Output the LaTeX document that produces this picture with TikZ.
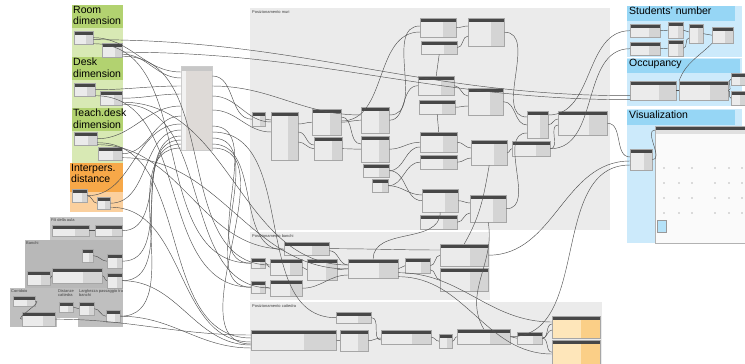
\documentclass[tikz,border=0pt]{standalone}
\usepackage{fontspec}
\setmainfont{Liberation Sans}
\usepackage{tikz}
\usetikzlibrary{calc}

\definecolor{grnH}{RGB}{178,210,112}
\definecolor{grnB}{RGB}{216,233,180}
\definecolor{orgH}{RGB}{247,168,72}
\definecolor{orgB}{RGB}{251,208,158}
\definecolor{bluH}{RGB}{150,214,245}
\definecolor{bluB}{RGB}{204,234,251}
\definecolor{ylwB}{RGB}{254,230,186}
\definecolor{ylwD}{RGB}{251,207,135}
\definecolor{hubC}{RGB}{222,218,215}

\tikzset{
  dyn/.style={draw=black!35, fill=black!8, inner sep=0pt, anchor=north west,
    path picture={
      \fill[black!17] ($(path picture bounding box.north west)!0.62!(path picture bounding box.north east)$) rectangle (path picture bounding box.south east);
      \fill[black!72] (path picture bounding box.north west) rectangle ([yshift=-3.5pt]path picture bounding box.north east);}},
  dynY/.style={dyn, fill=ylwB,
    path picture={
      \fill[ylwD] ($(path picture bounding box.north west)!0.6!(path picture bounding box.north east)$) rectangle (path picture bounding box.south east);
      \fill[black!72] (path picture bounding box.north west) rectangle ([yshift=-3.5pt]path picture bounding box.north east);}},
  hubbox/.style={draw=black!20, fill=hubC, inner sep=0pt, anchor=north west,
    path picture={
      \fill[black!5] (path picture bounding box.north west) rectangle ([xshift=5pt]path picture bounding box.south west);
      \fill[black!22] (path picture bounding box.north west) rectangle ([yshift=-5pt]path picture bounding box.north east);}},
  visbox/.style={draw=black!30, fill=black!2, inner sep=0pt, anchor=north west,
    path picture={
      \fill[black!12] (path picture bounding box.north west) rectangle ([yshift=-8pt]path picture bounding box.north east);
      \fill[black!72] (path picture bounding box.north west) rectangle ([yshift=-4pt]path picture bounding box.north east);}},
  wire/.style={draw=black!68, line width=0.45pt},
  grptitle/.style={anchor=north west, align=left, inner sep=1pt, font=\fontsize{10.5}{11.5}\selectfont},
  grplabel/.style={anchor=north west, inner sep=1pt, font=\fontsize{4}{4.5}\selectfont, text=black!75}
}

% one Dynamo node: name, x, y, width, height
\newcommand\dnode[6][dyn]{\node[#1, minimum width=#5pt, minimum height=#6pt] (#2) at (#3,#4) {};}
\newcommand\dwire[2]{\draw[wire] (#1) to[out=0,in=180] (#2);}

\begin{document}
\begin{tikzpicture}[x=1pt, y=-1pt]
\useasboundingbox (0,0) rectangle (745,364);

% groups
\fill[grnB] (72,5) rectangle (123,163);
\fill[grnH] (72,5) rectangle (123,28);
\fill[grnH] (72,57) rectangle (123,80);
\fill[grnH] (72,108) rectangle (123,131);
\fill[orgB] (70,163) rectangle (123,212);
\fill[orgH] (70,163) rectangle (123,192);
\node[grptitle] (gRoom) at (72,5) {Room\\dimension};
\node[grptitle] (gDesk) at (72,57) {Desk\\dimension};
\node[grptitle] (gTeach) at (72,108) {Teach.desk\\dimension};
\node[grptitle] (gDist) at (70,163) {Interpers.\\distance};

\fill[black!22] (50,217) rectangle (123,240);
\fill[black!28] (25,240) rectangle (123,290);
\fill[black!25] (10,288) rectangle (57,327);
\fill[black!25] (57,288) rectangle (78,318);
\fill[black!25] (78,288) rectangle (123,327);
\node[grplabel] (gFili) at (50,217) {Fili della aula};
\node[grplabel] (gBanchi) at (25,240) {Banchi};
\node[grplabel] (gCorr) at (10,288) {Corridoio};
\node[grplabel, align=left] (gDistC) at (57,288) {Distanze\\cattedra};
\node[grplabel, align=left] (gLargh) at (78,288) {Larghezza passaggio tra\\banchi};

\fill[black!8] (250,8) rectangle (610,230);
\fill[black!8] (250,232) rectangle (490,300);
\fill[black!8] (250,302) rectangle (602,364);
\node[grplabel] (gMuri) at (251,9) {Posizionamento muri};
\node[grplabel] (gPBanchi) at (251,233) {Posizionamento banchi};
\node[grplabel] (gPCatt) at (251,303) {Posizionamento cattedra};

\fill[bluB] (627,6) rectangle (742,57);
\fill[bluH] (627,6) rectangle (735,21);
\fill[bluB] (627,58) rectangle (742,106);
\fill[bluH] (627,59) rectangle (740,73);
\fill[bluB] (627,109) rectangle (742,243);
\fill[bluH] (627,110) rectangle (735,125);
\node[grptitle] (gStud) at (628,6) {Students' number};
\node[grptitle] (gOcc) at (628,58) {Occupancy};
\node[grptitle] (gVis) at (628,110) {Visualization};

% input nodes
\dnode{rA}{74}{31}{19}{13}
\dnode{rB}{102}{43}{20}{14}
\dnode{dA}{74}{83}{21}{13}
\dnode{dB}{100}{91}{22}{14}
\dnode{tA}{74}{132}{23}{13}
\dnode{tB}{98}{147}{24}{13}
\dnode{iA}{72}{189}{15}{13}
\dnode{iB}{97}{197}{13}{12}
\dnode{fA}{52}{225}{37}{11}
\dnode{fB}{95}{225}{27}{11}
\dnode{bA}{82}{249}{11}{13}
\dnode{bB}{52}{268}{50}{15}
\dnode{bC}{27}{271}{23}{14}
\dnode{bD}{107}{254}{15}{14}
\dnode{bE}{107}{273}{15}{15}
\dnode{cA}{13}{296}{22}{10}
\dnode{cB}{22}{312}{33}{14}
\dnode{lA}{59}{302}{14}{10}
\dnode{lB}{79}{302}{15}{13}
\dnode{lC}{106}{310}{14}{12}

\dnode[hubbox]{hub}{181}{66}{31}{84}

% Posizionamento muri
\dnode{m1}{252}{112}{13}{14}
\dnode{m2}{271}{112}{27}{48}
\dnode{m3}{312}{109}{29}{26}
\dnode{m4}{314}{137}{28}{23}
\dnode{m5}{361}{107}{28}{26}
\dnode{m6}{361}{136}{28}{26}
\dnode{m7}{363}{164}{26}{13}
\dnode{m8}{372}{179}{16}{13}
\dnode{m9}{420}{18}{36}{19}
\dnode{m10}{421}{41}{36}{13}
\dnode{m11}{468}{18}{36}{28}
\dnode{m12}{418}{76}{36}{19}
\dnode{m13}{419}{100}{36}{14}
\dnode{m14}{420}{132}{37}{20}
\dnode{m15}{420}{155}{37}{14}
\dnode{m16}{422}{189}{36}{23}
\dnode{m17}{420}{215}{37}{14}
\dnode{m18}{468}{88}{35}{27}
\dnode{m19}{471}{140}{36}{25}
\dnode{m20}{470}{195}{36}{27}
\dnode{m21}{512}{141}{38}{15}
\dnode{m22}{527}{111}{21}{27}
\dnode{m23}{558}{111}{49}{24}

% Posizionamento banchi
\dnode{n1}{251}{258}{14}{10}
\dnode{n2}{270}{259}{32}{16}
\dnode{n3}{307}{259}{30}{21}
\dnode{n4}{251}{281}{14}{12}
\dnode{n5}{270}{280}{32}{16}
\dnode{n6}{284}{242}{45}{13}
\dnode{n7}{348}{259}{50}{19}
\dnode{n8}{405}{258}{25}{15}
\dnode{n9}{440}{244}{48}{22}
\dnode{n10}{440}{268}{48}{23}

% Posizionamento cattedra
\dnode{k1}{251}{330}{85}{20}
\dnode{k2}{340}{330}{28}{21}
\dnode{k3}{336}{312}{35}{11}
\dnode{k4}{381}{330}{50}{14}
\dnode{k5}{439}{334}{13}{14}
\dnode{k6}{457}{329}{53}{15}
\dnode{k7}{517}{332}{25}{12}
\dnode[dynY]{k8}{552}{316}{48}{22}
\dnode[dynY]{k9}{552}{340}{48}{24}

% students, occupancy, visualization
\dnode{s1}{630}{24}{30}{13}
\dnode{s2}{630}{42}{30}{13}
\dnode{s3}{668}{22}{15}{16}
\dnode{s4}{668}{40}{15}{16}
\dnode{s5}{689}{24}{14}{19}
\dnode{s6}{712}{27}{21}{16}
\dnode{o1}{630}{81}{46}{19}
\dnode{o2}{679}{81}{49}{19}
\dnode{o3}{731}{73}{14}{12}
\dnode{o4}{731}{91}{14}{14}
\dnode{v1}{630}{149}{22}{21}
\dnode[visbox]{v2}{655}{126}{90}{117}
\foreach \dy in {168,183,198,213}
  \foreach \dx in {664,679,692,715,729,742}
    \fill[black!55] (\dx,\dy) circle (0.55pt);
\filldraw[draw=black!40, fill=bluH!70] (657,220) rectangle (666,232);

% wires into the hub
\dwire{rA.east}{[yshift=-6pt]hub.north west}
\dwire{[yshift=-4pt]rB.east}{[yshift=-12pt]hub.north west}
\dwire{dA.east}{[yshift=-20pt]hub.north west}
\dwire{dB.east}{[yshift=-28pt]hub.north west}
\dwire{tA.east}{[yshift=-40pt]hub.north west}
\dwire{tB.east}{[yshift=-50pt]hub.north west}
\dwire{iA.east}{[yshift=-58pt]hub.north west}
\dwire{iB.east}{[yshift=-64pt]hub.north west}
\dwire{fB.east}{[yshift=-70pt]hub.north west}
\dwire{bD.east}{[yshift=-74pt]hub.north west}
\dwire{bE.east}{[yshift=-78pt]hub.north west}
\dwire{lC.east}{[yshift=-82pt]hub.north west}

% wires inside the left groups
\dwire{fA.east}{fB.west}
\dwire{bC.east}{bB.west}
\dwire{bA.east}{bD.west}
\dwire{bB.east}{bE.west}
\dwire{cA.east}{cB.west}
\dwire{lA.east}{lB.west}
\dwire{lB.east}{lC.west}
\dwire{iA.east}{iB.west}

% long wires from the inputs
\dwire{[yshift=-2pt]rA.east}{[yshift=-5pt]o1.west}
\dwire{[yshift=-2pt]rB.east}{[yshift=-9pt]o1.west}
\dwire{[yshift=-6pt]rA.east}{n1.west}
\dwire{[yshift=-6pt]rB.east}{[yshift=-6pt]n2.north west}
\dwire{[yshift=-6pt]dA.east}{n4.west}
\dwire{[yshift=-6pt]dB.east}{[yshift=-8pt]n5.north west}
\dwire{[yshift=-4pt]dB.east}{[yshift=-6pt]n7.north west}
\dwire{[yshift=-4pt]tB.east}{[yshift=-10pt]n7.north west}
\dwire{[yshift=-6pt]tA.east}{[yshift=-7pt]n6.north west}
\dwire{[yshift=-4pt]tA.east}{[yshift=-8pt]k1.north west}
\dwire{[yshift=-4pt]iB.east}{[yshift=-12pt]k1.north west}
\dwire{bE.east}{[yshift=-15pt]k1.north west}
\dwire{lC.east}{[yshift=-18pt]k1.north west}
\dwire{cB.east}{[yshift=-5pt]k1.north west}

% wires out of the hub
\dwire{[yshift=-10pt]hub.north east}{m1.west}
\dwire{[yshift=-30pt]hub.north east}{[yshift=-10pt]m2.north west}
\dwire{[yshift=-44pt]hub.north east}{[yshift=-20pt]m2.north west}
\dwire{[yshift=-20pt]hub.north east}{[yshift=-8pt]m5.north west}
\dwire{[yshift=-60pt]hub.north east}{n1.west}
\dwire{[yshift=-72pt]hub.north east}{n4.west}
\dwire{[yshift=-78pt]hub.north east}{[yshift=-8pt]n6.north west}
\dwire{[yshift=-66pt]hub.north east}{k3.west}
\dwire{[yshift=-82pt]hub.north east}{[yshift=-14pt]k1.north west}

% Posizionamento muri
\dwire{m1.east}{[yshift=-8pt]m2.north west}
\dwire{[yshift=-12pt]m2.north east}{m3.west}
\dwire{[yshift=-30pt]m2.north east}{m4.west}
\dwire{[yshift=-20pt]m2.north east}{[yshift=-8pt]m4.north west}
\dwire{m3.east}{m5.west}
\dwire{[yshift=-8pt]m3.north east}{[yshift=-8pt]m6.north west}
\dwire{m4.east}{m6.west}
\dwire{[yshift=-8pt]m5.north east}{[yshift=-8pt]m9.north west}
\dwire{[yshift=-12pt]m3.north east}{[yshift=-14pt]m9.north west}
\dwire{m5.east}{m12.west}
\dwire{m6.east}{m14.west}
\dwire{m7.east}{[yshift=-15pt]m14.north west}
\dwire{m7.east}{m16.west}
\dwire{m8.east}{[yshift=-6pt]m16.north west}
\dwire{m8.east}{m15.west}
\dwire{m9.east}{[yshift=-8pt]m11.north west}
\dwire{m10.east}{[yshift=-18pt]m11.north west}
\dwire{m12.east}{[yshift=-8pt]m18.north west}
\dwire{m13.east}{[yshift=-18pt]m18.north west}
\dwire{m14.east}{[yshift=-8pt]m19.north west}
\dwire{m15.east}{[yshift=-18pt]m19.north west}
\dwire{m16.east}{[yshift=-8pt]m20.north west}
\dwire{m17.east}{[yshift=-18pt]m20.north west}
\draw[wire] (m10.south) -- (m12.north);
\draw[wire] (m13.south) -- (m14.north);
\dwire{m11.east}{[yshift=-6pt]m22.north west}
\dwire{m18.east}{[yshift=-14pt]m22.north west}
\dwire{m19.east}{m21.west}
\dwire{m20.east}{[yshift=-22pt]m22.north west}
\dwire{m21.east}{[yshift=-14pt]m23.north west}
\dwire{m22.east}{[yshift=-8pt]m23.north west}
\draw[wire] (m16.south) to[out=-90,in=90] (n7.north);
\draw[wire] (m19.south) to[out=-100,in=60] (n9.north);

% Posizionamento banchi
\dwire{n1.east}{n2.west}
\dwire{n2.east}{n3.west}
\dwire{n4.east}{n5.west}
\dwire{n3.east}{n7.west}
\dwire{n5.east}{[yshift=-16pt]n7.north west}
\dwire{n6.east}{[yshift=-6pt]n9.north west}
\dwire{[yshift=-2pt]n6.east}{[yshift=-6pt]n7.north west}
\dwire{n7.east}{n8.west}
\dwire{n8.east}{n9.west}
\dwire{[yshift=-4pt]n8.east}{n10.west}

% Posizionamento cattedra
\dwire{k1.east}{k2.west}
\dwire{k2.east}{[yshift=-8pt]k4.north west}
\dwire{k3.east}{[yshift=-10pt]k4.north west}
\dwire{k4.east}{k5.west}
\dwire{k5.east}{k6.west}
\dwire{k6.east}{k7.west}
\dwire{k7.east}{[yshift=-8pt]k8.north west}
\dwire{k7.east}{[yshift=-14pt]k8.north west}
\dwire{k7.east}{k9.west}
\dwire{[yshift=-4pt]n7.east}{[yshift=-6pt]k8.north west}
\dwire{[yshift=-8pt]n7.east}{[yshift=-14pt]k9.north west}
\draw[wire] (m20.south) to[out=-80,in=120] (k6.north);

% towards students, occupancy and visualization
\dwire{[yshift=-4pt]m22.north east}{s1.west}
\dwire{m21.east}{s2.west}
\dwire{m23.east}{[yshift=-8pt]v1.north west}
\dwire{n9.east}{[yshift=-12pt]v1.north west}
\dwire{k6.east}{[yshift=-16pt]v1.north west}
\dwire{s1.east}{s3.west}
\dwire{s2.east}{s4.west}
\dwire{s3.east}{[yshift=-8pt]s5.north west}
\dwire{s4.east}{[yshift=-14pt]s5.north west}
\dwire{s5.east}{s6.west}
\draw[wire] (s6.south west) to[out=225,in=70] (o2.north west);
\dwire{o1.east}{o2.west}
\dwire{o2.east}{o3.west}
\dwire{o2.east}{o4.west}
\dwire{v1.east}{[yshift=-4pt]v2.north west}
\end{tikzpicture}
\end{document}
